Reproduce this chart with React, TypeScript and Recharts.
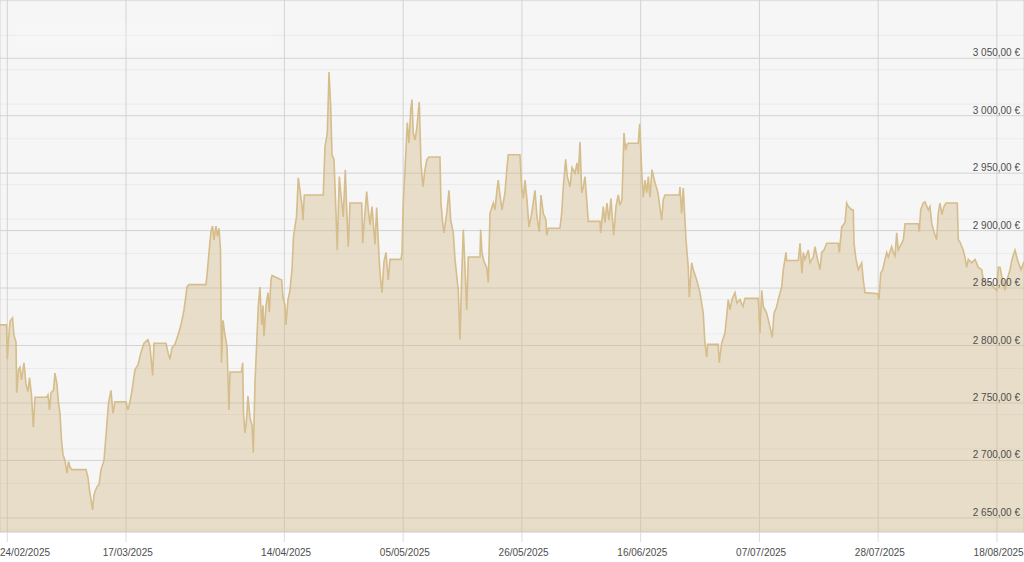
import React from "react";
import { AreaChart, Area, XAxis, YAxis, CartesianGrid } from "recharts";

// x: days since 24/02/2025 (intraday positions), y: price in €
const dayOffsets = [
  -1.29, -0.14, 0.0, 0.21, 0.48, 0.92, 1.18, 1.54, 1.66, 1.98,
  2.25, 2.51, 2.95, 3.31, 3.66, 3.93, 4.28, 4.6, 4.9, 6.97,
  7.2, 7.46, 7.73, 8.17, 8.43, 8.79, 9.05, 9.32, 9.58, 9.85,
  10.2, 10.56, 10.82, 11.09, 11.44, 13.92, 14.27, 14.54, 14.8, 15.07,
  15.33, 15.6, 15.86, 16.22, 16.57, 17.1, 17.54, 17.9, 18.34, 18.69,
  19.04, 20.99, 21.34, 21.7, 22.05, 22.58, 23.11, 23.64, 24.17, 24.88,
  25.23, 25.71, 25.94, 28.06, 28.42, 28.77, 29.12, 29.65, 30.18, 30.72,
  31.25, 31.78, 32.13, 35.14, 35.31, 35.67, 36.02, 36.29, 36.55, 36.9,
  37.17, 37.44, 37.7, 37.88, 38.14, 38.5, 38.85, 39.2, 39.38, 41.41,
  41.63, 41.77, 42.03, 42.3, 42.56, 42.92, 43.27, 43.5, 43.8, 44.38,
  44.68, 44.98, 45.22, 45.39, 45.75, 46.1, 46.33, 46.63, 46.81, 48.52,
  48.75, 49.11, 49.28, 49.64, 49.99, 50.35, 50.61, 51.14, 51.46, 51.76,
  52.11, 52.29, 52.52, 55.88, 56.18, 56.59, 56.89, 57.19, 57.42, 57.77,
  58.13, 58.35, 58.71, 59.01, 59.41, 59.77, 60.02, 60.3, 60.6, 62.67,
  62.85, 63.08, 63.55, 63.84, 64.14, 64.49, 65.02, 65.32, 65.68, 65.91,
  66.26, 66.61, 66.97, 67.37, 67.67, 69.62, 69.8, 70.02, 70.33, 70.73,
  71.03, 71.33, 71.56, 71.79, 72.09, 72.39, 72.85, 73.15, 73.5, 73.86,
  74.21, 74.57, 76.51, 76.69, 76.99, 77.22, 77.7, 78.11, 78.41, 78.87,
  79.17, 79.75, 80.05, 80.35, 80.64, 80.94, 81.24, 81.52, 83.59, 83.71,
  83.94, 84.3, 84.77, 85.06, 85.36, 85.94, 86.24, 86.59, 86.82, 87.12,
  87.48, 88.01, 88.36, 88.59, 90.66, 90.96, 91.25, 91.55, 91.9, 92.26,
  92.73, 93.31, 93.67, 94.07, 94.37, 94.78, 95.26, 95.38, 95.67, 97.73,
  98.03, 98.32, 98.74, 99.03, 99.51, 99.86, 100.39, 100.75, 100.98, 101.28,
  101.58, 101.86, 102.16, 102.46, 102.74, 104.81, 104.93, 105.39, 105.69, 106.04,
  106.4, 106.75, 107.23, 107.64, 108.04, 108.34, 108.7, 109.05, 109.35, 109.58,
  109.81, 111.58, 111.83, 112.18, 112.46, 112.77, 113.07, 113.35, 113.65, 114.0,
  114.53, 115.06, 115.72, 116.0, 116.3, 118.83, 118.95, 119.25, 119.54, 120.02,
  120.42, 120.6, 121.02, 121.31, 121.91, 122.49, 123.07, 123.37, 123.67, 123.85,
  125.72, 125.9, 126.32, 126.91, 127.26, 127.49, 127.79, 128.15, 128.68, 129.03,
  129.56, 130.09, 130.45, 132.8, 133.1, 133.4, 133.69, 134.29, 134.69, 135.28,
  135.58, 136.06, 136.34, 136.94, 137.23, 137.7, 137.83, 139.88, 140.18, 140.53,
  140.76, 141.06, 141.65, 141.95, 142.53, 142.83, 143.19, 143.72, 144.02, 144.43,
  144.9, 146.95, 147.13, 147.55, 148.14, 148.43, 148.72, 149.37, 149.6, 149.73,
  150.08, 150.49, 151.09, 151.37, 151.67, 153.97, 154.15, 154.45, 154.8, 155.51,
  155.79, 156.39, 156.68, 156.98, 157.28, 157.56, 158.16, 158.45, 158.75, 161.1,
  161.27, 161.52, 161.98, 162.28, 162.63, 162.86, 163.16, 163.46, 163.74, 164.34,
  164.63, 164.93, 165.28, 165.64, 165.99, 167.99, 168.17, 168.47, 169.05, 169.35,
  169.65, 169.94, 170.54, 171.13, 171.71, 172.31, 172.6, 173.2, 173.78, 174.37,
  174.97, 175.25, 175.55, 175.9, 176.43, 176.79, 177.32, 177.67, 178.2, 178.73, 179.26, 179.79,
];

const prices = [
  2818, 2818, 2788, 2805, 2821, 2824, 2809, 2803, 2759, 2779,
  2781, 2770, 2785, 2766, 2760, 2772, 2757, 2729, 2755, 2755,
  2757, 2744, 2759, 2761, 2776, 2766, 2750, 2741, 2718, 2705,
  2700, 2689, 2699, 2694, 2692, 2692, 2685, 2674, 2666, 2657,
  2670, 2674, 2677, 2679, 2692, 2700, 2727, 2750, 2761, 2741,
  2751, 2751, 2744, 2751, 2761, 2779, 2783, 2794, 2802, 2805,
  2799, 2774, 2802, 2802, 2794, 2788, 2798, 2801, 2809, 2818,
  2831, 2851, 2853, 2853, 2861, 2881, 2899, 2904, 2892, 2904,
  2895, 2902, 2883, 2785, 2822, 2809, 2799, 2744, 2777, 2777,
  2785, 2741, 2724, 2735, 2756, 2737, 2731, 2707, 2767, 2834,
  2851, 2818, 2835, 2808, 2835, 2846, 2829, 2857, 2861, 2857,
  2842, 2835, 2818, 2840, 2848, 2866, 2895, 2912, 2946, 2935,
  2922, 2909, 2931, 2931, 2973, 2985, 3038, 3008, 2966, 2962,
  2915, 2883, 2947, 2931, 2912, 2953, 2918, 2886, 2924, 2924,
  2889, 2905, 2934, 2918, 2905, 2921, 2888, 2920, 2883, 2863,
  2846, 2873, 2881, 2857, 2875, 2875, 2881, 2924, 2953, 2994,
  2976, 3005, 3014, 2985, 2979, 2988, 3012, 2959, 2938, 2953,
  2962, 2964, 2964, 2924, 2907, 2898, 2915, 2935, 2909, 2898,
  2875, 2848, 2805, 2860, 2901, 2868, 2831, 2877, 2877, 2901,
  2881, 2873, 2868, 2855, 2915, 2924, 2918, 2935, 2944, 2931,
  2918, 2933, 2955, 2966, 2966, 2938, 2928, 2944, 2927, 2903,
  2915, 2935, 2912, 2899, 2931, 2915, 2909, 2896, 2902, 2902,
  2915, 2938, 2962, 2947, 2938, 2955, 2950, 2959, 2949, 2977,
  2933, 2938, 2947, 2927, 2908, 2908, 2898, 2921, 2907, 2924,
  2909, 2928, 2896, 2921, 2931, 2922, 2927, 2985, 2970, 2975,
  2976, 2976, 2993, 2953, 2929, 2944, 2933, 2947, 2929, 2953,
  2942, 2933, 2909, 2927, 2931, 2931, 2938, 2915, 2937, 2892,
  2868, 2842, 2872, 2866, 2857, 2846, 2828, 2802, 2790, 2801,
  2801, 2785, 2802, 2811, 2828, 2840, 2831, 2840, 2846, 2837,
  2840, 2834, 2841, 2841, 2811, 2848, 2834, 2828, 2820, 2807,
  2828, 2834, 2840, 2851, 2866, 2881, 2874, 2874, 2889, 2863,
  2881, 2875, 2883, 2872, 2877, 2886, 2877, 2866, 2881, 2883,
  2889, 2889, 2881, 2903, 2907, 2924, 2921, 2918, 2918, 2889,
  2875, 2866, 2872, 2857, 2846, 2845, 2840, 2863, 2866, 2881,
  2877, 2886, 2881, 2878, 2898, 2883, 2889, 2892, 2906, 2906,
  2899, 2918, 2924, 2925, 2921, 2918, 2921, 2907, 2901, 2892,
  2915, 2924, 2914, 2921, 2924, 2924, 2892, 2890, 2883, 2877,
  2868, 2875, 2872, 2875, 2868, 2866, 2857, 2855, 2855, 2851,
  2848, 2868, 2868, 2859, 2848, 2857, 2866, 2875, 2883, 2873, 2866, 2873,
];

const tickDays = [0, 21, 49, 70, 91, 112, 133, 154, 175];
const tickLabels = [
  "24/02/2025", "17/03/2025", "14/04/2025", "05/05/2025", "26/05/2025",
  "16/06/2025", "07/07/2025", "28/07/2025", "18/08/2025",
];

const yTicks = [2650, 2700, 2750, 2800, 2850, 2900, 2950, 3000, 3050];
const yTickLabels = [
  "2 650,00 €", "2 700,00 €", "2 750,00 €", "2 800,00 €", "2 850,00 €",
  "2 900,00 €", "2 950,00 €", "3 000,00 €", "3 050,00 €",
];
const minorTicks = [
  2640, 2660, 2670, 2680, 2690, 2710, 2720, 2730, 2740, 2760, 2770, 2780, 2790,
  2810, 2820, 2830, 2840, 2860, 2870, 2880, 2890, 2910, 2920, 2930, 2940,
  2960, 2970, 2980, 2990, 3010, 3020, 3030, 3040, 3060, 3070, 3080, 3090, 3100,
];

const xDomain = [-1.29, 179.79];
const yDomain = [2637.7, 3100.7];

const data = dayOffsets.map((t, i) => ({ t, price: prices[i] }));

const FONT = "'Liberation Sans', Arial, Helvetica, sans-serif";

const XTick = (props: any) => {
  const { x, y, payload } = props;
  const idx = tickDays.indexOf(payload.value);
  const label = idx >= 0 ? tickLabels[idx] : "";
  return (
    <text
      x={Math.max(0, x - 23.3)}
      y={y + 11.5}
      textAnchor="start"
      fill="#4d4d4d"
      fontSize={10}
      fontFamily={FONT}
    >
      {label}
    </text>
  );
};

const YTick = (props: any) => {
  const { y, payload } = props;
  const idx = yTicks.indexOf(payload.value);
  const label = idx >= 0 ? yTickLabels[idx] : "";
  return (
    <text x={1020} y={y - 2} textAnchor="end" fill="#4d4d4d" fontSize={10} fontFamily={FONT}>
      {label}
    </text>
  );
};

export default function App() {
  return (
    <div style={{ position: "relative", width: 1024, height: 562, background: "#ffffff" }}>
      <style>{`body{margin:0;}`}</style>
      <AreaChart width={1024} height={562} data={data} margin={{ top: 0, right: 0, bottom: 0, left: 0 }}>
        <YAxis yAxisId="minor" hide type="number" domain={yDomain} ticks={minorTicks} allowDataOverflow />
        <CartesianGrid yAxisId="minor" vertical={false} stroke="#ebebeb" fill="#f6f6f6" strokeDasharray="0" />
        <CartesianGrid yAxisId="main" stroke="#d3d3d3" strokeDasharray="0" />
        <XAxis
          dataKey="t"
          type="number"
          domain={xDomain}
          ticks={tickDays}
          interval={0}
          allowDataOverflow
          height={30}
          axisLine={false}
          tickSize={10}
          tickLine={{ stroke: "#dcdcdc" }}
          tick={<XTick />}
        />
        <YAxis
          yAxisId="main"
          orientation="right"
          mirror
          type="number"
          domain={yDomain}
          ticks={yTicks}
          interval={0}
          allowDataOverflow
          axisLine={false}
          tickLine={false}
          tick={<YTick />}
        />
        <Area
          yAxisId="main"
          type="linear"
          dataKey="price"
          stroke="#d5bd8c"
          strokeWidth={1.6}
          fill="#d4bb87"
          fillOpacity={0.42}
          dot={false}
          activeDot={false}
          isAnimationActive={false}
        />
      </AreaChart>
      <div
        style={{
          position: "absolute",
          left: 16,
          top: 23,
          width: 257,
          height: 25,
          background: "rgba(255,255,255,0.18)",
          pointerEvents: "none",
        }}
      />
    </div>
  );
}
